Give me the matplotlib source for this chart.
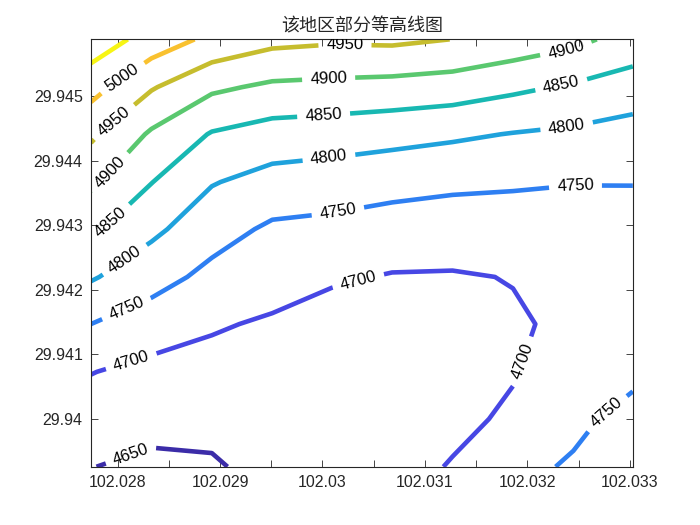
import numpy as np
import matplotlib
matplotlib.use('Agg')
import matplotlib.pyplot as plt
from matplotlib.ticker import MultipleLocator, FuncFormatter

# grid coordinates (longitude / latitude)
lon = [102.02774, 102.02833, 102.02892, 102.02951, 102.03009,
       102.03068, 102.03127, 102.03186, 102.03245, 102.03303]
lat = [29.93926, 29.94000, 29.94073, 29.94147, 29.94220,
       29.94294, 29.94367, 29.94441, 29.94514, 29.94588]

# elevation, one row per latitude (bottom to top)
elev = [
    [4651.0, 4640.0, 4644.4, 4666.0, 4675.0, 4689.3, 4701.9, 4738.0, 4755.0, 4785.0],
    [4676.0, 4665.0, 4664.0, 4676.0, 4680.0, 4688.0, 4693.0, 4704.6, 4740.0, 4764.0],
    [4701.5, 4686.0, 4683.7, 4686.0, 4682.0, 4688.0, 4692.0, 4698.0, 4718.0, 4740.0],
    [4750.0, 4726.0, 4705.0, 4694.0, 4680.0, 4688.0, 4692.0, 4694.7, 4709.0, 4733.0],
    [4805.0, 4769.0, 4737.0, 4720.0, 4706.0, 4697.0, 4696.0, 4701.7, 4718.0, 4732.0],
    [4859.6, 4811.0, 4769.4, 4742.0, 4737.0, 4729.0, 4726.0, 4729.0, 4724.0, 4738.0],
    [4909.5, 4851.3, 4803.0, 4782.0, 4775.0, 4766.0, 4759.0, 4755.0, 4752.0, 4751.0],
    [4958.8, 4893.0, 4846.4, 4829.0, 4824.0, 4816.7, 4808.0, 4798.0, 4791.0, 4780.0],
    [5019.0, 4954.5, 4909.0, 4891.0, 4887.0, 4882.6, 4876.0, 4860.0, 4844.0, 4827.0],
    [5081.0, 5030.0, 4988.0, 4964.0, 4957.6, 4960.0, 4949.5, 4932.0, 4913.0, 4880.0],
]

levels = [4650, 4700, 4750, 4800, 4850, 4900, 4950, 5000, 5050]
line_colors = ['#3b2ca8', '#4747e4', '#2e7ff2', '#1fa2dc', '#18b8b2',
               '#5ac86f', '#c6bd2e', '#f9c12f', '#f7f514']

# where the inline labels sit (lon, lat)
label_pos = [
    (102.02805, 29.94528),
    (102.02795, 29.94463), (102.03022, 29.94584),
    (102.02788, 29.94389), (102.03006, 29.94528), (102.03238, 29.94571),
    (102.02786, 29.94316), (102.03001, 29.94474), (102.03233, 29.94519),
    (102.02806, 29.94249), (102.03006, 29.94410), (102.03238, 29.94460),
    (102.02808, 29.94173), (102.03014, 29.94331), (102.03247, 29.94365),
    (102.03279, 29.94006),
    (102.02812, 29.94096), (102.03034, 29.94220), (102.03199, 29.94087),
    (102.02813, 29.93944),
]

# clabel's inline cutting uses np.allclose, which is too loose for values
# around 102 with a 0.005 span -> work in offsets and add them back in the ticks
X0, Y0 = 102.0, 29.9

plt.rcParams['font.family'] = ['Liberation Sans', 'Noto Sans CJK SC', 'DejaVu Sans']

fig = plt.figure(figsize=(7, 5.25), dpi=100)
ax = fig.add_axes([0.13, 0.111, 0.774, 0.814])

xs = np.array(lon) - X0
ys = np.array(lat) - Y0
X, Y = np.meshgrid(xs, ys)
cs = ax.contour(X, Y, np.array(elev), levels=levels, colors=line_colors, linewidths=3.3)

ax.set_xlim(xs[0], xs[-1])
ax.set_ylim(ys[0], ys[-1])

manual = [(px - X0, py - Y0) for px, py in label_pos]
labels = ax.clabel(cs, fmt='%d', fontsize=12, colors='black', inline=True,
                   inline_spacing=8, manual=manual)

ax.xaxis.set_major_locator(MultipleLocator(0.001))
ax.xaxis.set_minor_locator(MultipleLocator(0.0005))
ax.yaxis.set_major_locator(MultipleLocator(0.001))
ax.xaxis.set_major_formatter(FuncFormatter(lambda v, p: f'{v + X0:g}'))
ax.yaxis.set_major_formatter(FuncFormatter(lambda v, p: f'{v + Y0:g}'))
ax.tick_params(which='both', direction='in', top=True, right=True,
               length=5, width=0.6, color='#262626',
               labelsize=11.5, labelcolor='#262626', pad=6)
for s in ax.spines.values():
    s.set_linewidth(0.8)
    s.set_color('#262626')

ax.set_title('该地区部分等高线图', fontsize=13, family=['Noto Sans CJK SC'],
             color='#262626', pad=6)

fig.savefig('out.png', dpi=100)
